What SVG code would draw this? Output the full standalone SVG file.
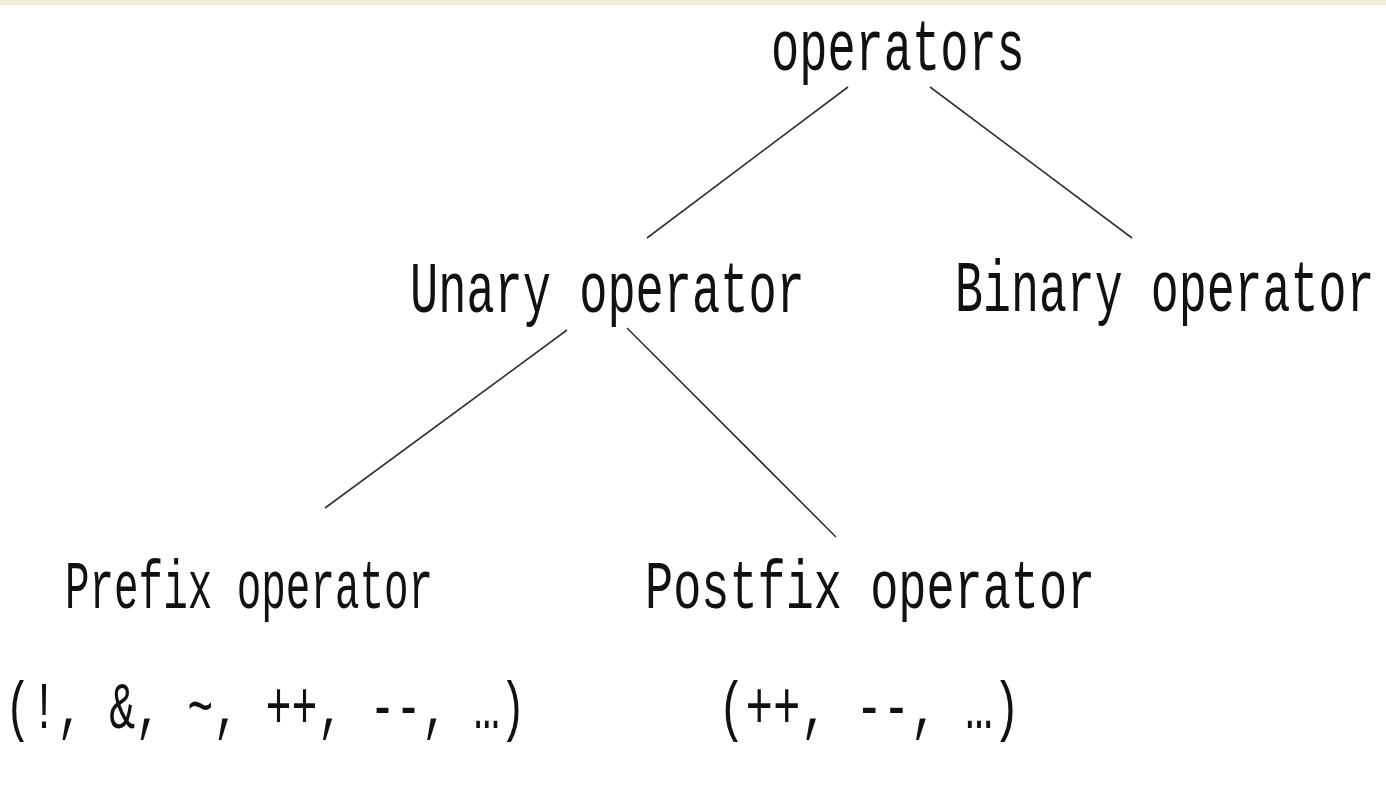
<svg xmlns="http://www.w3.org/2000/svg" width="1386" height="790" viewBox="0 0 1386 790">
<style>
.t{font-family:"Liberation Mono","Courier New",monospace;fill:#111;}
.c line{stroke:#333;stroke-width:1.6;}
</style>
<rect x="0" y="0" width="1386" height="790" fill="#ffffff"/>
<rect x="0" y="0" width="1386" height="5" fill="#efedd6"/>
<g class="c" id="connectors">
<line x1="848" y1="87" x2="647" y2="238"/>
<line x1="930" y1="87" x2="1132" y2="238"/>
<line x1="567" y1="330" x2="325" y2="508"/>
<line x1="627" y1="328" x2="836" y2="537"/>
</g>
<g id="operators"><text class="t" font-size="47" transform="translate(771,70) scale(1,1.553)" x="0" y="0">operators</text></g>
<g id="unary"><text class="t" font-size="47" transform="translate(410,312) scale(1,1.553)" x="0" y="0">Unary operator</text></g>
<g id="binary"><text class="t" font-size="46.6" transform="translate(955,311) scale(1,1.566)" x="0" y="0">Binary operator</text></g>
<g id="prefix"><text class="t" font-size="40.9" transform="translate(65,608) scale(1,1.663)" x="0" y="0">Prefix operator</text>
<text class="t" font-size="43.4" transform="translate(5,728) scale(1,1.52)" x="0" y="0">(!, &amp;, ~, ++, --, …)</text></g>
<g id="postfix"><text class="t" font-size="46.9" transform="translate(645,608) scale(1,1.45)" x="0" y="0">Postfix operator</text>
<text class="t" font-size="45.8" transform="translate(718,728) scale(1,1.44)" x="0" y="0">(++, --, …)</text></g>
</svg>
